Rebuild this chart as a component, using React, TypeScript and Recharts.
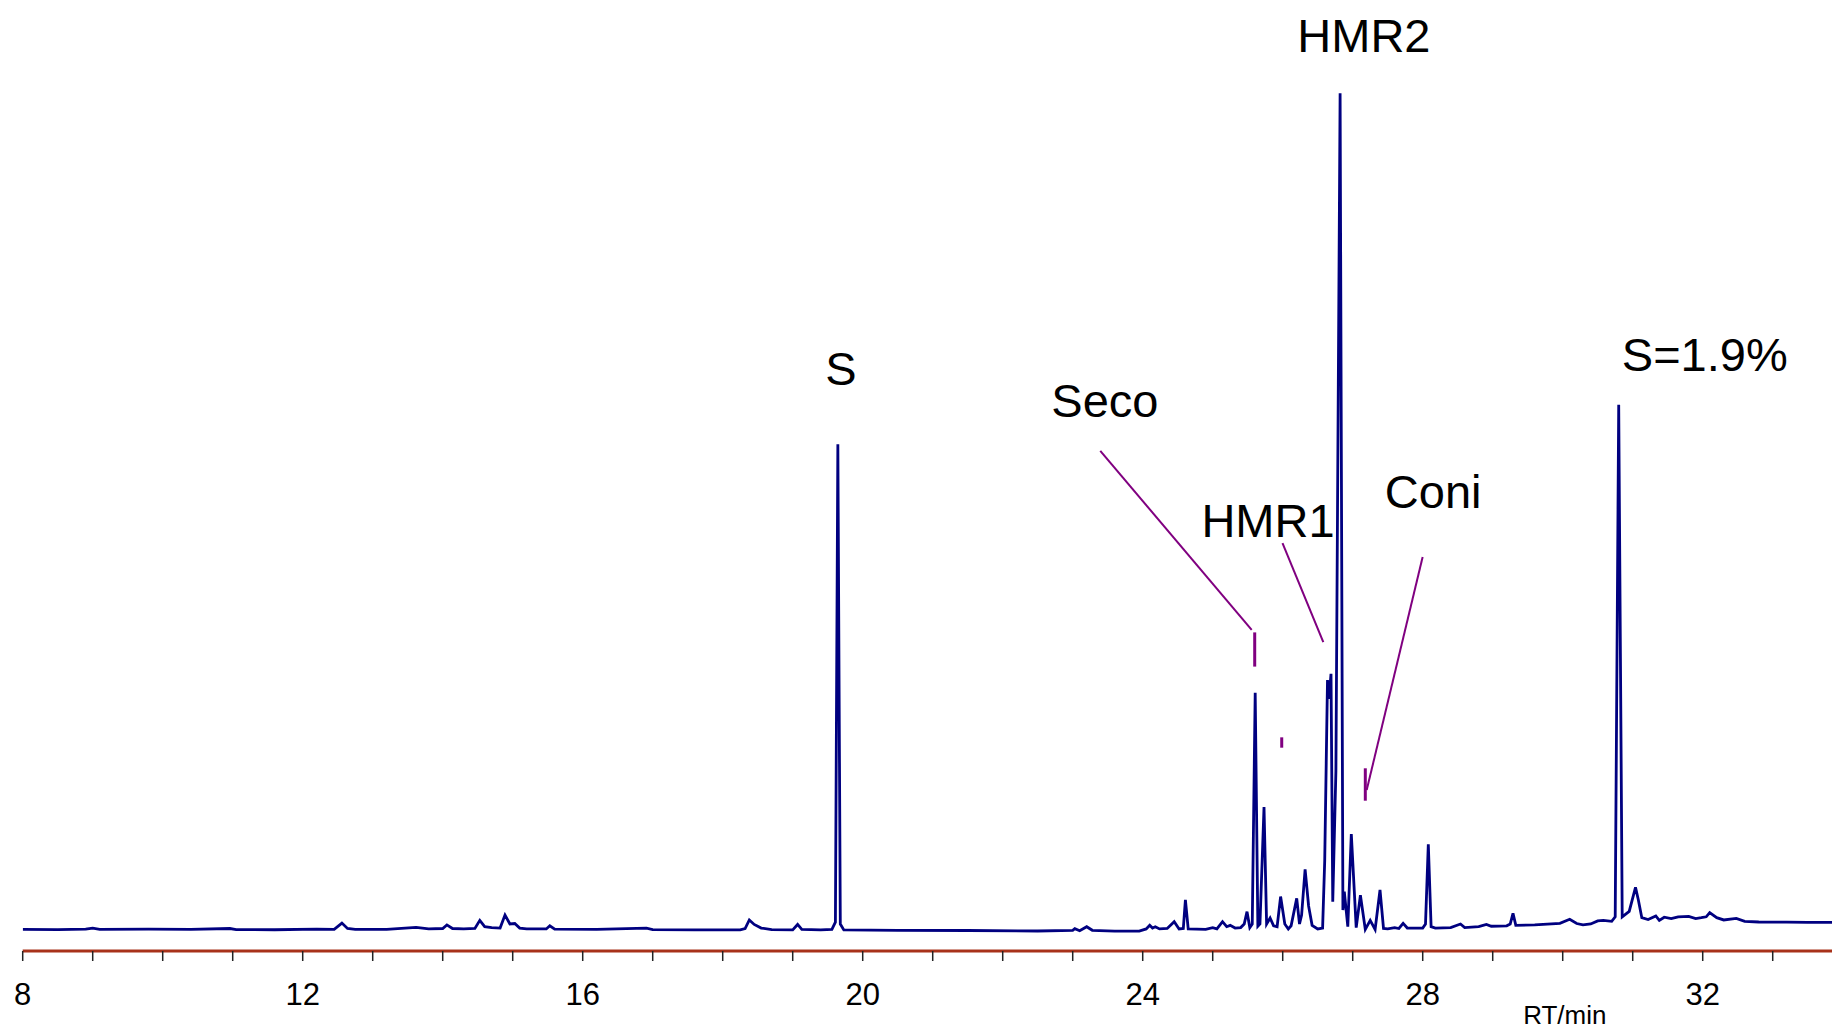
import React from 'react';
import { LineChart, Line, XAxis, YAxis, ReferenceLine, ReferenceDot, Label } from 'recharts';

// retention time (min) and detector signal (arbitrary units, 0-100 full scale)
const rtMin = [
  8.0, 8.5, 8.9, 9.0, 9.1, 9.8, 10.4, 10.96, 11.05, 11.6, 12.2, 12.45, 12.56, 12.64, 12.75,
  13.2, 13.62, 13.8, 14.0, 14.06, 14.14, 14.3, 14.46, 14.53, 14.6, 14.7, 14.82, 14.89, 14.96,
  15.03, 15.1, 15.2, 15.48, 15.53, 15.6, 16.2, 16.91, 17.0, 17.6, 18.25, 18.32, 18.38, 18.45,
  18.55, 18.7, 19.0, 19.07, 19.13, 19.4, 19.56, 19.61, 19.645, 19.68, 19.73, 20.5, 21.5, 22.5,
  23.0, 23.03, 23.1, 23.2, 23.28, 23.6, 23.95, 24.05, 24.1, 24.14, 24.18, 24.24, 24.35, 24.45,
  24.52, 24.58, 24.61, 24.65, 24.9, 25.0, 25.06, 25.14, 25.2, 25.25, 25.32, 25.4, 25.45, 25.49,
  25.53, 25.565, 25.607, 25.645, 25.675, 25.733, 25.77, 25.82, 25.87, 25.92, 25.97, 26.03,
  26.08, 26.12, 26.2, 26.24, 26.27, 26.32, 26.37, 26.42, 26.5, 26.57, 26.6, 26.64, 26.66,
  26.69, 26.715, 26.76, 26.82, 26.86, 26.88, 26.93, 26.98, 27.05, 27.11, 27.18, 27.25, 27.32,
  27.39, 27.44, 27.5, 27.6, 27.66, 27.72, 27.78, 28.0, 28.04, 28.08, 28.12, 28.18, 28.4, 28.54,
  28.6, 28.8, 28.91, 28.98, 29.2, 29.25, 29.29, 29.33, 29.6, 29.96, 30.1, 30.2, 30.29, 30.4,
  30.5, 30.58, 30.7, 30.75, 30.8, 30.85, 30.95, 31.04, 31.08, 31.13, 31.22, 31.33, 31.38,
  31.45, 31.55, 31.65, 31.8, 31.9, 31.98, 32.05, 32.1, 32.2, 32.3, 32.48, 32.6, 32.8, 33.2,
  33.5, 33.85,
];

const signal = [
  2.4, 2.38, 2.42, 2.55, 2.4, 2.42, 2.4, 2.5, 2.38, 2.36, 2.42, 2.4, 3.1, 2.5, 2.4,
  2.4, 2.62, 2.45, 2.5, 2.9, 2.5, 2.45, 2.5, 3.4, 2.7, 2.6, 2.55, 4.0, 3.0,
  3.05, 2.55, 2.45, 2.45, 2.8, 2.42, 2.4, 2.55, 2.38, 2.35, 2.35, 2.5, 3.45, 2.95,
  2.55, 2.38, 2.35, 2.95, 2.4, 2.35, 2.4, 3.2, 56.3, 3.0, 2.35, 2.3, 2.28, 2.22,
  2.3, 2.48, 2.25, 2.7, 2.3, 2.2, 2.2, 2.45, 2.85, 2.55, 2.7, 2.45, 2.5, 3.26,
  2.45, 2.5, 5.67, 2.45, 2.4, 2.6, 2.45, 3.26, 2.7, 2.85, 2.55, 2.6, 3.0, 4.37,
  2.6, 3.0, 28.7, 2.75, 3.0, 16.0, 3.0, 3.67, 2.8, 2.7, 6.05, 3.0,
  2.45, 2.8, 5.85, 3.0, 4.0, 9.07, 5.0, 2.85, 2.45, 2.55, 10.0, 30.1, 28.0,
  30.8, 5.48, 20.0, 95.3, 4.55, 6.6, 2.7, 13.0, 2.6, 6.2, 2.4, 3.4, 2.4,
  6.78, 2.5, 2.45, 2.6, 2.5, 3.07, 2.55, 2.55, 3.0, 11.85, 2.7, 2.55, 2.6, 3.0,
  2.6, 2.7, 2.96, 2.75, 2.8, 3.0, 4.19, 2.85, 2.9, 3.07, 3.52, 3.05, 2.9, 3.0,
  3.35, 3.4, 3.3, 3.8, 60.7, 3.8, 4.4, 7.07, 5.7, 3.7, 3.5, 3.89, 3.4,
  3.75, 3.6, 3.8, 3.85, 3.6, 3.7, 3.8, 4.26, 3.7, 3.45, 3.63, 3.3, 3.22, 3.2,
  3.18, 3.19,
];

const axisTicks = [8, 9, 10, 11, 12, 13, 14, 15, 16, 17, 18, 19, 20, 21, 22, 23, 24, 25, 26, 27, 28, 29, 30, 31, 32, 33];

// peak names and where their text sits (rt, signal)
const peakNames = ['HMR2', 'S', 'Seco', 'HMR1', 'Coni', 'S=1.9%'];
const peakNameRt = [27.16, 19.69, 23.46, 25.79, 28.15, 32.03];
const peakNameSignal = [101.7, 64.7, 61.2, 47.8, 51.1, 66.3];

// leader lines from name to peak: [rt1, sig1, rt2, sig2]
const leaderLines = [
  [23.394, 55.58, 25.557, 35.67],
  [25.997, 45.33, 26.58, 34.33],
  [27.999, 43.78, 27.2, 17.89],
];
// short peak markers: [rt, sigTop, sigBottom]
const peakMarks = [
  [25.6, 35.4, 31.6],
  [25.986, 23.74, 22.59],
  [27.18, 20.3, 16.7],
];

const data = rtMin.map((rt, i) => ({ rt, signal: signal[i] }));

const FONT = '"Liberation Sans", Arial, Helvetica, sans-serif';
const PURPLE = '#800080';

const RtTick = (props: any) => {
  const { x, y, payload } = props;
  if (payload.value % 4 !== 0) return null;
  return (
    <text x={x} y={y} dy={44} textAnchor="middle" fontSize={31} fontFamily={FONT} fill="#000">
      {payload.value}
    </text>
  );
};

export default function App() {
  return (
    <div style={{ position: 'absolute', left: 0, top: 0, width: 1832, height: 1030, background: '#fff' }}>
      <LineChart width={1832} height={1030} data={data} margin={{ top: 51, right: 0, bottom: 0, left: 22.7 }}>
        <XAxis
          dataKey="rt"
          type="number"
          domain={[8, 33.847]}
          allowDataOverflow
          ticks={axisTicks}
          interval={0}
          height={79}
          tickSize={10}
          tickMargin={0}
          axisLine={{ stroke: '#a8321a', strokeWidth: 3 }}
          tickLine={{ stroke: '#222', strokeWidth: 1.5 }}
          tick={<RtTick />}
        />
        <YAxis hide domain={[0, 100]} allowDataOverflow />
        <Line
          type="linear"
          dataKey="signal"
          stroke="#000080"
          strokeWidth={2.8}
          dot={false}
          isAnimationActive={false}
        />
        {leaderLines.map((s, i) => (
          <ReferenceLine
            key={`lead-${i}`}
            segment={[{ x: s[0], y: s[1] }, { x: s[2], y: s[3] }]}
            stroke={PURPLE}
            strokeWidth={2}
            ifOverflow="visible"
          />
        ))}
        {peakMarks.map((m, i) => (
          <ReferenceLine
            key={`mark-${i}`}
            segment={[{ x: m[0], y: m[1] }, { x: m[0], y: m[2] }]}
            stroke={PURPLE}
            strokeWidth={3}
            ifOverflow="visible"
          />
        ))}
        {peakNames.map((name, i) => (
          <ReferenceDot
            key={name}
            x={peakNameRt[i]}
            y={peakNameSignal[i]}
            r={0}
            stroke="none"
            fill="none"
            ifOverflow="visible"
          >
            <Label value={name} position="center" fontSize={47} fontFamily={FONT} fill="#000" />
          </ReferenceDot>
        ))}
        <ReferenceDot x={30.03} y={-7.11} r={0} stroke="none" fill="none" ifOverflow="visible">
          <Label value="RT/min" position="center" fontSize={26} fontFamily={FONT} fill="#000" />
        </ReferenceDot>
      </LineChart>
    </div>
  );
}
